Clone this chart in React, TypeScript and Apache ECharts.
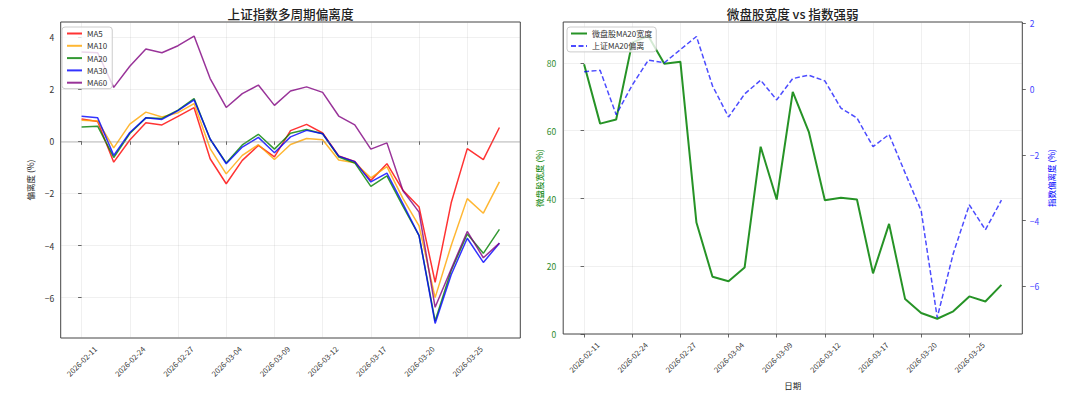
import React, { useEffect, useRef } from "react";
import * as echarts from "echarts";

const dates = [
  "2026-02-11", "2026-02-12", "2026-02-13", "2026-02-24", "2026-02-25", "2026-02-26", "2026-02-27",
  "2026-03-02", "2026-03-03", "2026-03-04", "2026-03-05", "2026-03-06", "2026-03-09", "2026-03-10",
  "2026-03-11", "2026-03-12", "2026-03-13", "2026-03-16", "2026-03-17", "2026-03-18", "2026-03-19",
  "2026-03-20", "2026-03-23", "2026-03-24", "2026-03-25", "2026-03-26", "2026-03-27",
];

const ma5 = [0.86, 0.76, -0.8, 0.05, 0.71, 0.63, 0.96, 1.29, -0.67, -1.63, -0.73, -0.16, -0.6, 0.41, 0.65, 0.32, -0.56, -0.77, -1.5, -0.86, -1.88, -2.52, -5.41, -2.36, -0.28, -0.7, 0.53];
const ma10 = [0.81, 0.78, -0.25, 0.66, 1.12, 0.93, 1.1, 1.45, -0.28, -1.25, -0.54, -0.13, -0.7, -0.12, 0.11, 0.06, -0.72, -0.82, -1.4, -0.97, -2.2, -3.25, -6.0, -4.0, -2.2, -2.76, -1.56];
const ma20 = [0.55, 0.58, -0.62, 0.3, 0.9, 0.88, 1.2, 1.64, 0.08, -0.83, -0.14, 0.27, -0.3, 0.31, 0.45, 0.29, -0.6, -0.83, -1.73, -1.33, -2.5, -3.62, -6.9, -4.96, -3.56, -4.3, -3.38];
const ma30 = [0.96, 0.9, -0.54, 0.34, 0.9, 0.84, 1.18, 1.59, 0.09, -0.86, -0.22, 0.15, -0.44, 0.17, 0.42, 0.29, -0.57, -0.78, -1.56, -1.22, -2.4, -3.62, -6.99, -5.12, -3.72, -4.65, -3.91];
const ma60 = [3.43, 3.4, 2.07, 2.88, 3.54, 3.4, 3.67, 4.04, 2.41, 1.3, 1.83, 2.16, 1.38, 1.93, 2.09, 1.88, 0.97, 0.63, -0.3, -0.06, -1.9, -2.72, -6.37, -4.9, -3.46, -4.47, -3.91];

const breadth = [79.6, 62.1, 63.3, 86.0, 88.0, 79.8, 80.4, 32.9, 16.9, 15.6, 19.6, 55.3, 39.7, 71.5, 59.7, 39.5, 40.2, 39.7, 17.9, 32.5, 10.3, 6.2, 4.5, 6.7, 11.1, 9.6, 14.5];
const szMa20 = [0.53, 0.57, -0.78, 0.12, 0.88, 0.8, 1.2, 1.6, 0.1, -0.85, -0.15, 0.27, -0.33, 0.32, 0.42, 0.25, -0.58, -0.88, -1.75, -1.38, -2.55, -3.7, -6.95, -5.0, -3.52, -4.28, -3.38];

const xTicks = [0, 3, 6, 9, 12, 15, 18, 21, 24];
const leftYTicks = [-6, -4, -2, 0, 2, 4];
const breadthTicks = [0, 20, 40, 60, 80];
const rightYTicks = [-6, -4, -2, 0, 2];

const FONT = "'Noto Sans CJK SC', 'DejaVu Sans', sans-serif";
const fmt = (v: number) => (v < 0 ? "\u2212" + Math.abs(v) : String(v));
const pts = (arr: number[]) => arr.map((v, i) => [i, v]);

const GRID1 = { left: 60.7, top: 22, width: 459.6, height: 316 };
const GRID2 = { left: 563.2, top: 22, width: 459.1, height: 316 };

function xAxisCfg(gridIndex: number, withName: boolean) {
  return {
    type: "value",
    gridIndex,
    min: -1.3,
    max: 27.3,
    axisLine: { show: false },
    axisTick: { show: true, length: 3.5, customValues: xTicks, lineStyle: { color: "#444", width: 0.8 } },
    axisLabel: {
      customValues: xTicks,
      formatter: (v: number) => dates[Math.round(v)] ?? "",
      rotate: 45,
      align: "center",
      verticalAlign: "middle",
      margin: 23,
      fontSize: 7.6,
      color: "#333",
      fontFamily: FONT,
    },
    splitLine: { show: true, lineStyle: { color: "rgba(150,150,150,0.18)", width: 0.8 } },
    name: withName ? "日期" : "",
    nameLocation: "middle",
    nameGap: 45,
    nameTextStyle: { fontSize: 8.5, color: "#222", fontFamily: FONT },
  };
}

const legendBase = {
  orient: "vertical",
  top: 27,
  itemHeight: 8,
  backgroundColor: "rgba(255,255,255,0.8)",
  borderColor: "#cccccc",
  borderWidth: 1,
  borderRadius: 3,
  itemStyle: { opacity: 0 },
  textStyle: { fontSize: 8, color: "#333", fontFamily: FONT },
};

export default function App() {
  const ref = useRef<HTMLDivElement>(null);
  useEffect(() => {
    if (!ref.current) return;
    const chart = echarts.init(ref.current, undefined, { renderer: "svg" });
    const lineSeries = (name: string, data: number[], color: string) => ({
      name,
      type: "line",
      xAxisIndex: 0,
      yAxisIndex: 0,
      data: pts(data),
      symbol: "none",
      showSymbol: false,
      lineStyle: { color, width: 1.5, opacity: 0.8 },
      itemStyle: { color },
    });
    const s5: any = lineSeries("MA5", ma5, "#ff0000");
    s5.markLine = {
      silent: true,
      symbol: ["none", "none"],
      label: { show: false },
      lineStyle: { color: "#808080", opacity: 0.35, width: 1.5, type: "solid" },
      data: [{ yAxis: 0 }],
    };
    const titleStyle = {
      fontSize: 12.6,
      fontWeight: 500,
      fontFamily: FONT,
      fill: "#222",
      textAlign: "center",
      textVerticalAlign: "middle",
    };
    const option: any = {
      animation: false,
      backgroundColor: "#ffffff",
      textStyle: { fontFamily: FONT },
      grid: [
        { ...GRID1, show: true, borderColor: "#444", borderWidth: 1, backgroundColor: "transparent" },
        { ...GRID2, show: true, borderColor: "#444", borderWidth: 1, backgroundColor: "transparent" },
      ],
      graphic: [
        {
          type: "text",
          x: GRID1.left + GRID1.width / 2,
          y: 13,
          style: { ...titleStyle, text: "上证指数多周期偏离度" },
        },
        {
          type: "text",
          x: GRID2.left + GRID2.width / 2,
          y: 13,
          style: { ...titleStyle, text: "微盘股宽度 vs 指数强弱" },
        },
      ],
      legend: [
        {
          ...legendBase,
          data: ["MA5", "MA10", "MA20", "MA30", "MA60"],
          left: 62,
          padding: [2.5, 5, 2, 4],
          itemWidth: 15,
          itemGap: 4.3,
        },
        {
          ...legendBase,
          data: ["微盘股MA20宽度", "上证MA20偏离"],
          left: 567,
          padding: [2.5, 4, 2, 3],
          itemWidth: 16,
          itemGap: 4.4,
        },
      ],
      xAxis: [xAxisCfg(0, false), xAxisCfg(1, true)],
      yAxis: [
        {
          type: "value",
          gridIndex: 0,
          min: -7.55,
          max: 4.58,
          axisLine: { show: false },
          axisTick: { show: true, length: 3.5, customValues: leftYTicks, lineStyle: { color: "#444", width: 0.8 } },
          axisLabel: { customValues: leftYTicks, formatter: fmt, fontSize: 8.5, color: "#333", margin: 6.5, fontFamily: FONT },
          splitLine: { show: true, lineStyle: { color: "rgba(150,150,150,0.18)", width: 0.8 } },
          name: "偏离度 (%)",
          nameLocation: "middle",
          nameRotate: 90,
          nameGap: 26.5,
          nameTextStyle: { fontSize: 8.5, color: "#222", fontFamily: FONT },
        },
        {
          type: "value",
          gridIndex: 1,
          min: 0,
          max: 92.1,
          axisLine: { show: false },
          axisTick: { show: true, length: 3.5, customValues: breadthTicks, lineStyle: { color: "#444", width: 0.8 } },
          axisLabel: { customValues: breadthTicks, fontSize: 8.5, color: "#2e8b2e", margin: 7, fontFamily: FONT },
          splitLine: { show: true, lineStyle: { color: "rgba(150,150,150,0.18)", width: 0.8 } },
          name: "微盘股宽度 (%)",
          nameLocation: "middle",
          nameRotate: 90,
          nameGap: 20,
          nameTextStyle: { fontSize: 8.5, color: "#008000", fontFamily: FONT },
        },
        {
          type: "value",
          gridIndex: 1,
          position: "right",
          min: -7.45,
          max: 2.04,
          axisLine: { show: false },
          axisTick: { show: true, length: 3.5, customValues: rightYTicks, lineStyle: { color: "#444", width: 0.8 } },
          axisLabel: { customValues: rightYTicks, formatter: fmt, fontSize: 8.5, color: "#4444ff", margin: 7.5, fontFamily: FONT },
          splitLine: { show: false },
          name: "指数偏离度 (%)",
          nameLocation: "middle",
          nameRotate: 90,
          nameGap: 24.5,
          nameTextStyle: { fontSize: 8.5, color: "#0000ff", fontFamily: FONT },
        },
      ],
      series: [
        s5,
        lineSeries("MA10", ma10, "#ffa500"),
        lineSeries("MA20", ma20, "#008000"),
        lineSeries("MA30", ma30, "#0000ff"),
        lineSeries("MA60", ma60, "#800080"),
        {
          name: "微盘股MA20宽度",
          type: "line",
          xAxisIndex: 1,
          yAxisIndex: 1,
          data: pts(breadth),
          symbol: "none",
          showSymbol: false,
          lineStyle: { color: "#008000", width: 2, opacity: 0.85 },
          itemStyle: { color: "#008000" },
        },
        {
          name: "上证MA20偏离",
          type: "line",
          xAxisIndex: 1,
          yAxisIndex: 2,
          data: pts(szMa20),
          symbol: "none",
          showSymbol: false,
          lineStyle: { color: "#0000ff", width: 1.5, opacity: 0.7, type: [5, 2.5] },
          itemStyle: { color: "#0000ff" },
        },
      ],
    };
    chart.setOption(option);
    return () => chart.dispose();
  }, []);
  return (
    <div
      ref={ref}
      style={{ position: "absolute", left: 0, top: 0, width: 1080, height: 394, background: "#fff" }}
    />
  );
}
